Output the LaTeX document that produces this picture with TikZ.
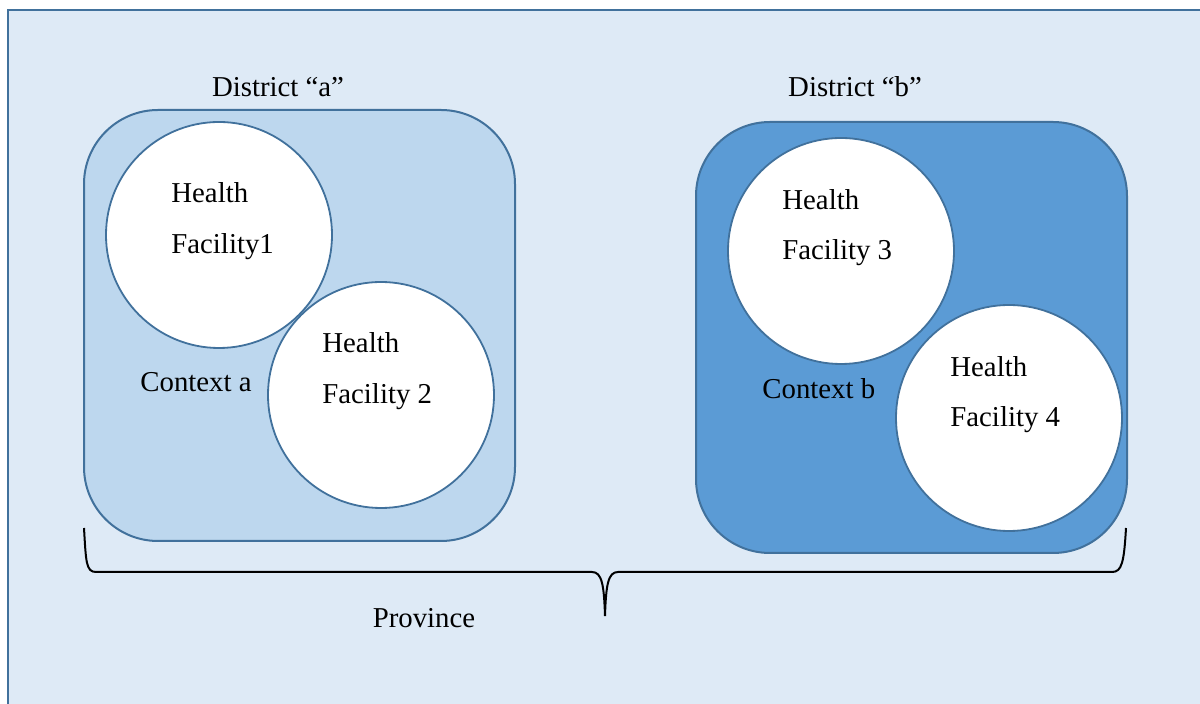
\documentclass[tikz,border=0pt]{standalone}
\usepackage{fontspec}
\setmainfont{Liberation Serif}
\usepackage{tikz}
\usetikzlibrary{positioning}
\definecolor{frameblue}{HTML}{41719C}
\definecolor{paleblue}{HTML}{DEEAF6}
\definecolor{lightblue}{HTML}{BDD7EE}
\definecolor{midblue}{HTML}{5B9BD5}
\tikzset{
  district/.style={draw=frameblue,line width=1pt,rounded corners=37pt},
  facility/.style={circle,draw=frameblue,fill=white,line width=0.9pt,minimum size=113pt,inner sep=0pt},
  lbl/.style={anchor=base west,inner sep=0pt,font=\fontsize{14.4}{17}\selectfont},
  title/.style={anchor=base,inner sep=0pt,font=\fontsize{14.4}{17}\selectfont}
}

\begin{document}
\begin{tikzpicture}[x=0.5pt,y=-0.5pt]
\useasboundingbox (0,0) rectangle (1200,704);
% province frame
\draw [fill=paleblue,draw=frameblue,line width=1.25pt](8,10) rectangle (1215,720);
% districts
\draw [district,fill=lightblue](84,110) rectangle (515,541);
\draw [district,fill=midblue](696,122) rectangle (1127,553);
\node[title] (dista) at (278,97){District “a”};
\node[title] (distb) at (855,97){District “b”};
% facilities
\node[facility] (hf1) at (219,235){};
\node[facility] (hf2) at (381,395){};
\node[facility] (hf3) at (841,251){};
\node[facility] (hf4) at (1009,418){};
\node[lbl] (hf1a) at (171,203){Health};
\node[lbl] (hf1b) at (171,254){Facility1};
\node[lbl] (hf2a) at (322,353){Health};
\node[lbl] (hf2b) at (322,404){Facility 2};
\node[lbl] (hf3a) at (782,210){Health};
\node[lbl] (hf3b) at (782,260){Facility 3};
\node[lbl] (hf4a) at (950,377){Health};
\node[lbl] (hf4b) at (950,427){Facility 4};
\node[lbl] (ctxa) at (140,392){Context a};
\node[lbl] (ctxb) at (762,399){Context b};
% brace
\draw [line width=1pt](84,528) .. controls (86,562) and (86,572) .. (96,572) -- (592,572)
  .. controls (602,572) and (604,585) .. (605,616) .. controls (606,585) and (608,572) .. (618,572)
  -- (1112,572) .. controls (1122,572) and (1124,562) .. (1126,528);
\node[title] (prov) at (424,628){Province};
\end{tikzpicture}
\end{document}
